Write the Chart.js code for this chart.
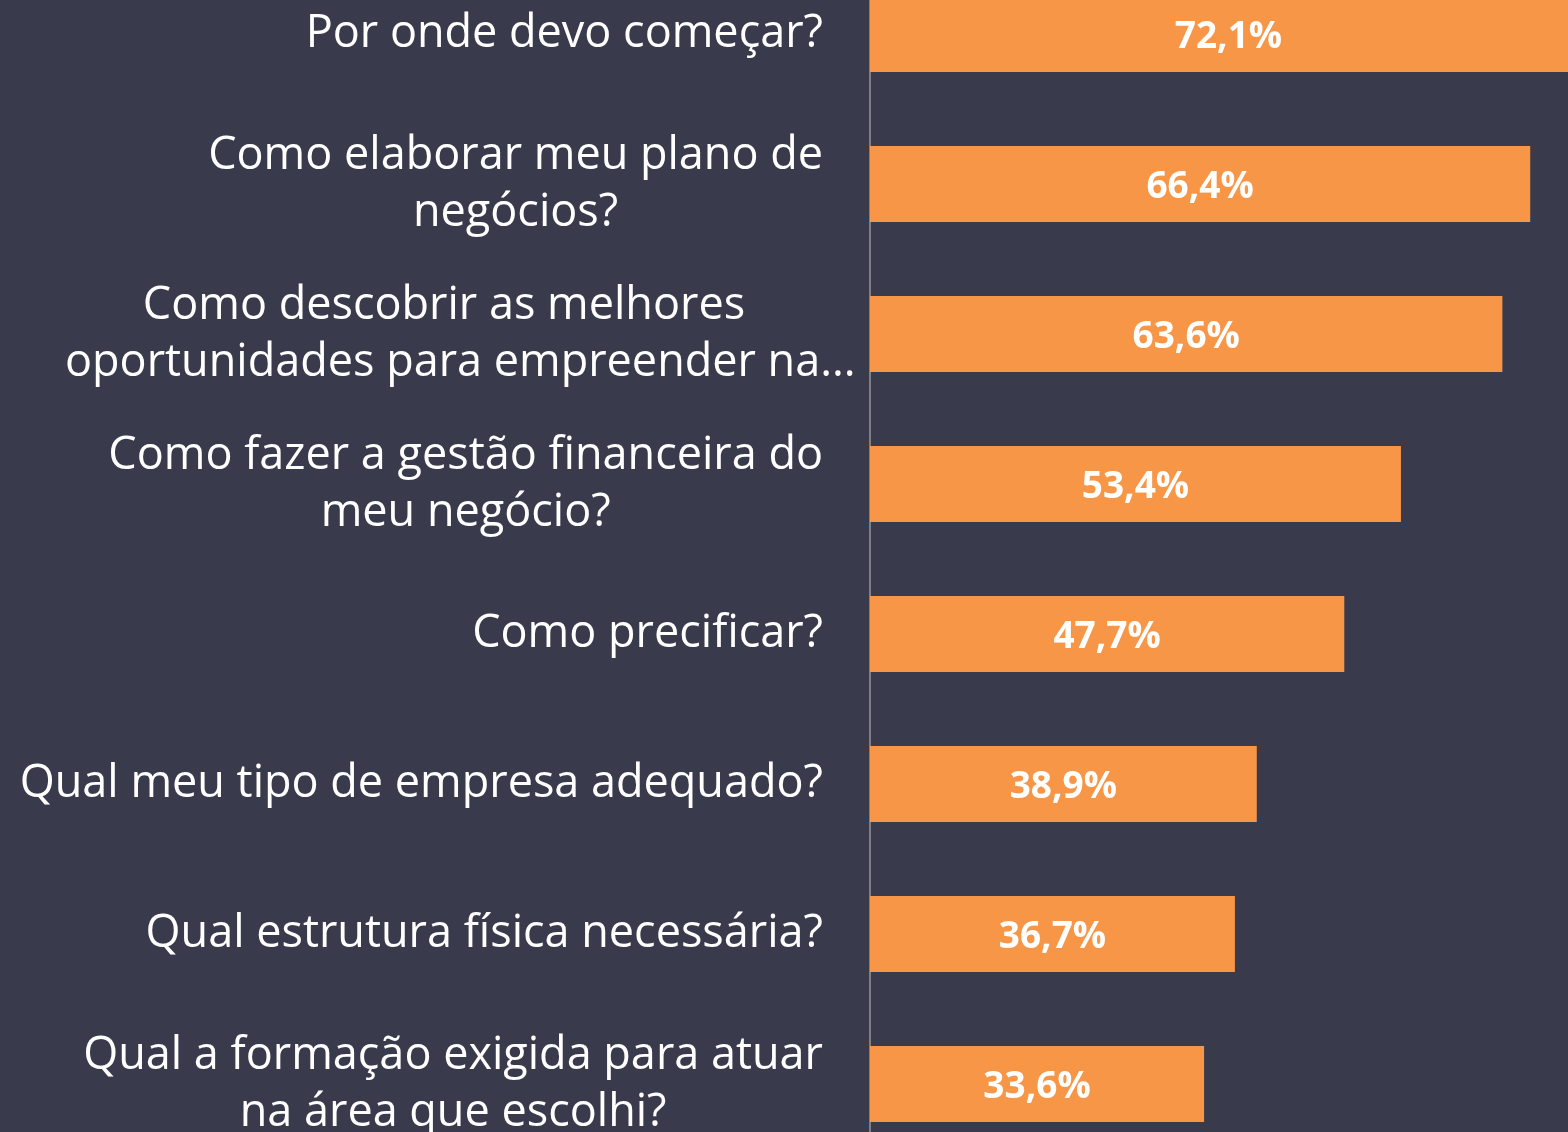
<!DOCTYPE html>
<html>
<head>
<meta charset="utf-8">
<script src="https://cdn.jsdelivr.net/npm/chart.js@4/dist/chart.umd.min.js"></script>
<style>
  html, body { margin: 0; padding: 0; background: #393b4d; overflow: hidden; }
  /* o gráfico original é cortado em cima e embaixo */
  #perguntasChart { display: block; margin-top: -41px; }
</style>
</head>
<body>
<canvas id="perguntasChart" width="1568" height="1200"></canvas>
<script>
// dados do gráfico
const categories = [
    ['Por onde devo começar?'],
    ['Como elaborar meu plano de', 'negócios?'],
    ['Como descobrir as melhores', 'oportunidades para empreender na...'],
    ['Como fazer a gestão financeira do', 'meu negócio?'],
    ['Como precificar?'],
    ['Qual meu tipo de empresa adequado?'],
    ['Qual estrutura física necessária?'],
    ['Qual a formação exigida para atuar', 'na área que escolhi?']
];
const values = [72.1, 66.4, 63.6, 53.4, 47.7, 38.9, 36.7, 33.6];

const BG = '#393b4d';
const ORANGE = '#f79646';
const LABEL_FONT = '45px "Open Sans"';
const VALUE_FONT = 'bold 37px "Open Sans"';

function formatPct(v) {
    return v.toFixed(1).replace('.', ',') + '%';
}

// fundo escuro
const bgPlugin = {
    id: 'bg',
    beforeDraw(chart) {
        const ctx = chart.ctx;
        ctx.save();
        ctx.fillStyle = BG;
        ctx.fillRect(0, 0, chart.width, chart.height);
        ctx.restore();
    }
};

// rótulos das categorias (linhas centralizadas, bloco alinhado à direita)
const categoryLabels = {
    id: 'categoryLabels',
    afterDraw(chart) {
        const ctx = chart.ctx;
        const yScale = chart.scales.y;
        const rightEdge = yScale.right - 47;
        const maxBlock = 758;
        const lineHeight = 57;
        ctx.save();
        ctx.font = LABEL_FONT;
        ctx.fillStyle = '#ffffff';
        ctx.textBaseline = 'middle';
        categories.forEach((lines, i) => {
            const y = yScale.getPixelForValue(i) + 0.5;
            if (lines.length === 1) {
                ctx.textAlign = 'right';
                ctx.fillText(lines[0], rightEdge, y);
                return;
            }
            let w = 0;
            lines.forEach(l => { w = Math.max(w, ctx.measureText(l).width); });
            w = Math.min(w, maxBlock);
            const cx = rightEdge - w / 2;
            lines.forEach((l, j) => {
                const ly = y + (j - (lines.length - 1) / 2) * lineHeight;
                if (ctx.measureText(l).width > w) {
                    ctx.textAlign = 'left';
                    ctx.fillText(l, cx - w / 2, ly);
                } else {
                    ctx.textAlign = 'center';
                    ctx.fillText(l, cx, ly);
                }
            });
        });
        ctx.restore();
    }
};

// valores dentro das barras
const valueLabels = {
    id: 'valueLabels',
    afterDatasetsDraw(chart) {
        const ctx = chart.ctx;
        const meta = chart.getDatasetMeta(0);
        ctx.save();
        ctx.font = VALUE_FONT;
        ctx.fillStyle = '#ffffff';
        ctx.textAlign = 'center';
        ctx.textBaseline = 'middle';
        meta.data.forEach((bar, i) => {
            const cx = (bar.x + bar.base) / 2;
            ctx.fillText(formatPct(values[i]), cx, bar.y + 3);
        });
        ctx.restore();
    }
};

let ctx = document.getElementById('perguntasChart').getContext('2d');
let perguntasChart = new Chart(ctx, {
    type: 'bar',
    data: {
        labels: categories,
        datasets: [
            {
                data: values,
                backgroundColor: ORANGE,
                borderWidth: 0,
                barPercentage: 0.507,
                categoryPercentage: 1
            }
        ]
    },
    options: {
        indexAxis: 'y',
        responsive: false,
        animation: false,
        layout: {
            padding: 0
        },
        scales: {
            x: {
                display: false,
                min: 0,
                max: 70.2
            },
            y: {
                afterFit(scale) { scale.width = 870; },
                grid: { display: false },
                border: { display: true, color: '#808080', width: 2 },
                ticks: { display: false }
            }
        },
        plugins: {
            legend: { display: false },
            tooltip: { enabled: false }
        }
    },
    plugins: [bgPlugin, valueLabels, categoryLabels]
});
</script>
</body>
</html>
